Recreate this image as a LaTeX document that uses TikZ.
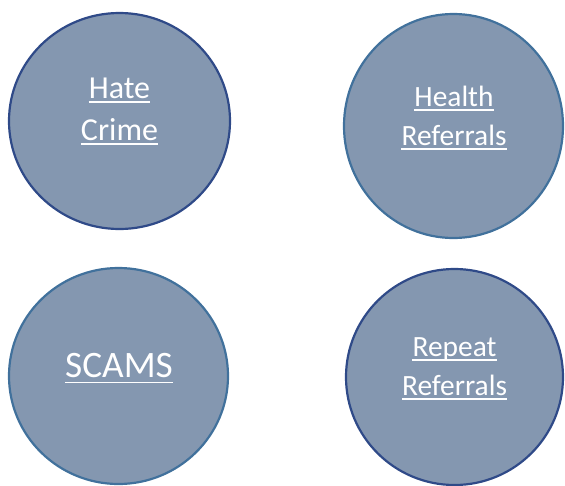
\documentclass[tikz,border=0pt]{standalone}
\usepackage{fontspec}
\setmainfont{Carlito}
\usetikzlibrary{shapes.geometric}
\definecolor{bubfill}{HTML}{8497B0}
\definecolor{darkedge}{HTML}{2F4A88}
\definecolor{lightedge}{HTML}{41719C}
\tikzset{
  bubble/.style={ellipse,fill=bubfill,line width=2.2pt,inner sep=0pt},
  lbl/.style={anchor=base,inner sep=0pt,text=white},
  uline/.style={draw=white,line width=1.8pt}
}
\begin{document}
\begin{tikzpicture}[x=1pt,y=-1pt]
\useasboundingbox (0,0) rectangle (565,485);
\node[bubble,draw=darkedge,minimum width=221pt,minimum height=216pt] (c1) at (119.5,121) {};
\node[bubble,draw=lightedge,minimum width=219pt,minimum height=224pt] (c2) at (453.5,126) {};
\node[bubble,draw=lightedge,minimum width=219pt,minimum height=216pt] (c3) at (118.5,376) {};
\node[bubble,draw=darkedge,minimum width=217pt,minimum height=216pt] (c4) at (454.5,377) {};
% texts
\node[lbl,font=\fontsize{32}{38}\selectfont] (t1a) at (119.5,98.5) {Hate};
\node[lbl,font=\fontsize{32}{38}\selectfont] (t1b) at (119.5,140) {Crime};
\node[lbl,font=\fontsize{29.4}{36}\selectfont] (t2a) at (454,106) {Health};
\node[lbl,font=\fontsize{29.4}{36}\selectfont] (t2b) at (454,145) {Referrals};
\node[lbl,font=\fontsize{37.3}{44}\selectfont] (t3) at (119,377.7) {SCAMS};
\node[lbl,font=\fontsize{29.4}{36}\selectfont] (t4a) at (454.5,356) {Repeat};
\node[lbl,font=\fontsize{29.4}{36}\selectfont] (t4b) at (454.5,395) {Referrals};
% underlines
\foreach \n in {t1a,t1b,t2a,t2b,t4a,t4b}{
  \draw[uline] ([yshift=-3.8pt]\n.base west) -- ([yshift=-3.8pt]\n.base east);
}
\draw[uline] ([yshift=-4.8pt]t3.base west) -- ([yshift=-4.8pt]t3.base east);
\end{tikzpicture}
\end{document}
